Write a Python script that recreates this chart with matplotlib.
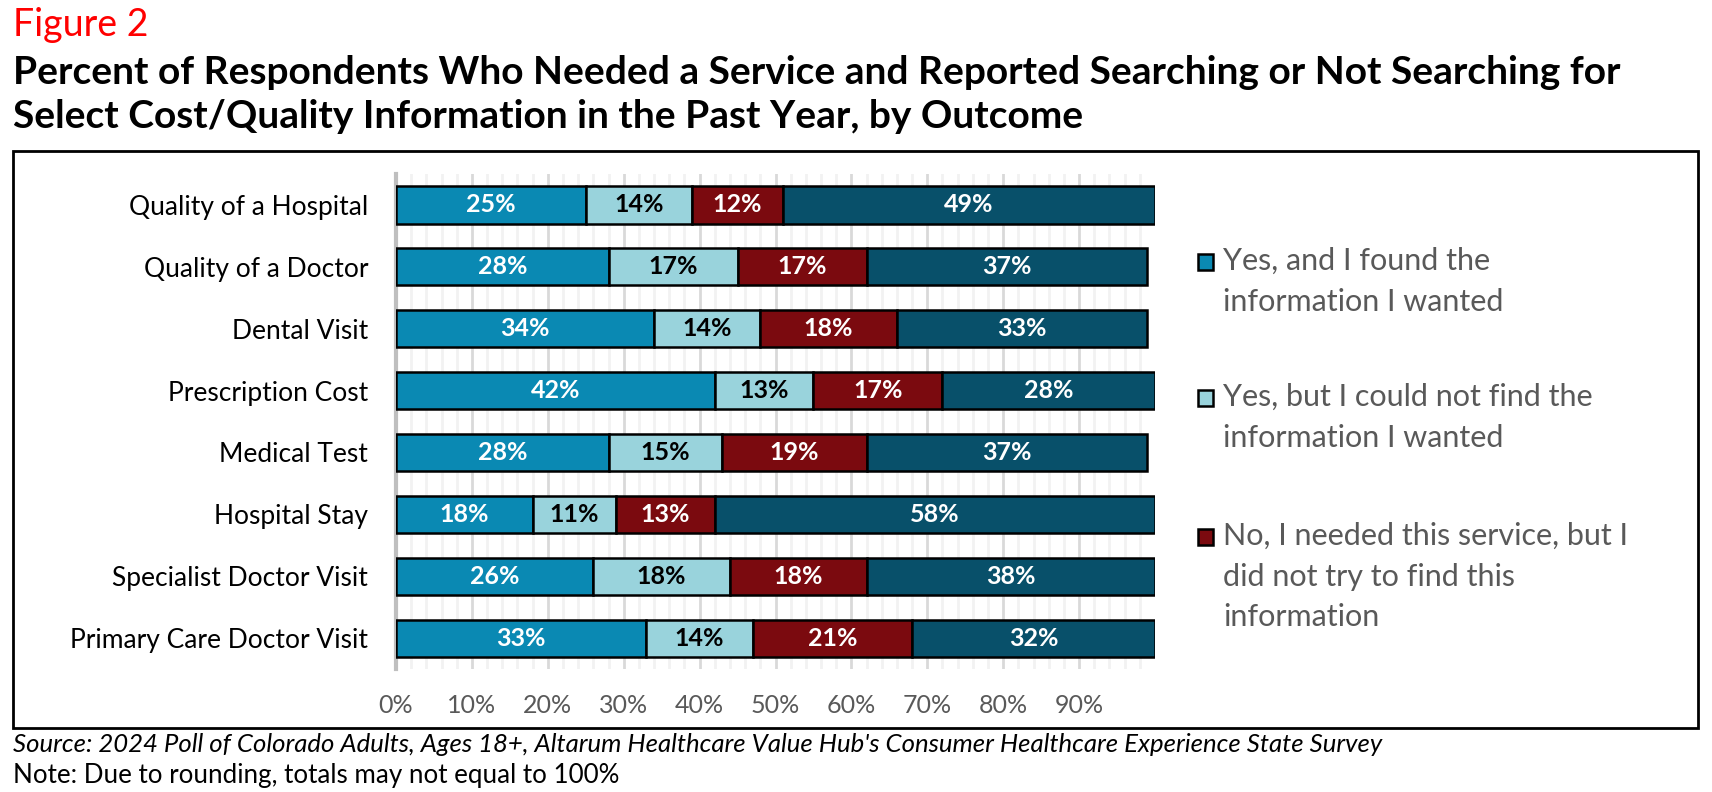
import matplotlib as mpl
mpl.use('Agg')
import matplotlib.pyplot as plt
from matplotlib.patches import Rectangle
import numpy as np

# data
categories = ['Quality of a Hospital', 'Quality of a Doctor', 'Dental Visit',
              'Prescription Cost', 'Medical Test', 'Hospital Stay',
              'Specialist Doctor Visit', 'Primary Care Doctor Visit']
found = [25, 28, 34, 42, 28, 18, 26, 33]
not_found = [14, 17, 14, 13, 15, 11, 18, 14]
did_not_try = [12, 17, 18, 17, 19, 13, 18, 21]
not_needed = [49, 37, 33, 28, 37, 58, 38, 32]
series = [found, not_found, did_not_try, not_needed]
legend_labels = ['Yes, and I found the\ninformation I wanted',
                 'Yes, but I could not find the\ninformation I wanted',
                 'No, I needed this service, but I\ndid not try to find this\ninformation']
colors = ['#0A89B3', '#99D3DC', '#7B0A0F', '#08506A']
text_colors = ['white', 'black', 'white', 'white']
xticks = np.arange(0, 100, 10)

mpl.rcParams['font.family'] = ['Lato', 'DejaVu Sans']

W, H = 1712, 792
fig = plt.figure(figsize=(W / 100, H / 100), dpi=100)

# outer frame
fig.patches.append(Rectangle((13 / W, 1 - 728 / H), (1698 - 13) / W, (728 - 151) / H,
                             transform=fig.transFigure, fill=False, edgecolor='black',
                             linewidth=2))

ax = fig.add_axes([396 / W, 1 - 669 / H, (1155 - 396) / W, (669 - 174) / H])
y = np.arange(len(categories))
left = np.zeros(len(categories))
for vals, c, tc in zip(series, colors, text_colors):
    vals = np.array(vals, dtype=float)
    bars = ax.barh(y, vals, left=left, height=0.6, color=c, edgecolor='black',
                   linewidth=1.8, zorder=3)
    for b, v in zip(bars, vals):
        ax.text(b.get_x() + b.get_width() / 2, b.get_y() + b.get_height() / 2,
                f'{int(v)}%', ha='center', va='center', color=tc,
                fontsize=18, fontweight='bold', zorder=4)
    left += vals

ax.set_xlim(0, 100)
ax.set_ylim(len(categories) - 0.5, -0.5)
ax.set_yticks(y)
ax.set_yticklabels(categories, fontsize=19)
ax.set_xticks(xticks)
ax.set_xticklabels([f'{t}%' for t in xticks], fontsize=18, color='#595959')
ax.set_xticks(np.arange(0, 100, 2), minor=True)
ax.tick_params(axis='x', which='both', length=0, pad=18)
ax.tick_params(axis='y', length=0, pad=20)
ax.grid(axis='x', which='minor', color='#F2F2F2', linewidth=2, zorder=1)
ax.grid(axis='x', which='major', color='#D9D9D9', linewidth=2, zorder=2)
for s in ['top', 'right', 'bottom']:
    ax.spines[s].set_visible(False)
ax.spines['left'].set_color('#BFBFBF')
ax.spines['left'].set_linewidth(3)

# legend
leg_y = [262, 398, 537]
for lab, c, ly in zip(legend_labels, colors, leg_y):
    fig.patches.append(Rectangle((1198 / W, 1 - (ly + 8) / H), 15 / W, 16 / H,
                                 transform=fig.transFigure, facecolor=c,
                                 edgecolor='black', linewidth=1.8))
    fig.text(1223 / W, 1 - (ly - 15) / H, lab, ha='left', va='top', fontsize=22,
             color='#595959', linespacing=1.55)

# titles
fig.text(13 / W, 1 - 25 / H, 'Figure 2', color='#FF0000', fontsize=27, va='center')
fig.text(13 / W, 1 - 73 / H,
         'Percent of Respondents Who Needed a Service and Reported Searching or Not Searching for',
         fontsize=28, fontweight='bold', va='center')
fig.text(13 / W, 1 - 116 / H,
         'Select Cost/Quality Information in the Past Year, by Outcome',
         fontsize=28, fontweight='bold', va='center')
fig.text(13 / W, 1 - 744 / H,
         "Source: 2024 Poll of Colorado Adults, Ages 18+, Altarum Healthcare Value Hub's Consumer Healthcare Experience State Survey",
         fontsize=18.5, style='italic', va='center')
fig.text(13 / W, 1 - 776 / H, 'Note: Due to rounding, totals may not equal to 100%',
         fontsize=18.7, va='center')

fig.savefig('out.png', dpi=100)
